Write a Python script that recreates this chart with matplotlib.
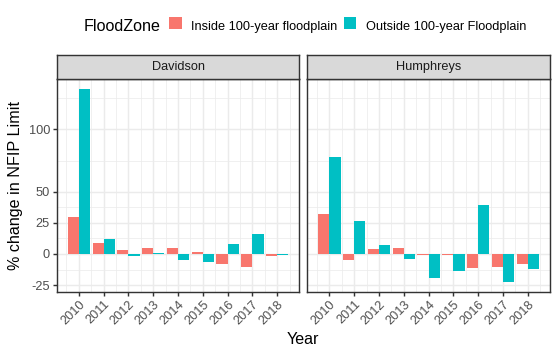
import matplotlib
matplotlib.use("Agg")
import matplotlib.pyplot as plt
import matplotlib.patches as mpatches
import numpy as np

plt.rcParams['font.family'] = ['Liberation Sans', 'DejaVu Sans']
plt.rcParams['axes.unicode_minus'] = False

years = [2010, 2011, 2012, 2013, 2014, 2015, 2016, 2017, 2018]
counties = ["Davidson", "Humphreys"]
zones = ["Inside 100-year floodplain", "Outside 100-year Floodplain"]
colors = ["#F8766D", "#00BFC4"]

davidson_inside = [29.3, 8.6, 3.2, 4.8, 4.8, 1.6, -8.3, -10.2, -1.3]
davidson_outside = [132.5, 12.1, -1.3, 1.1, -4.8, -6.2, 8.0, 15.9, -0.8]
humphreys_inside = [32.3, -4.6, 3.8, 4.8, -0.8, -0.8, -11.0, -10.2, -8.3]
humphreys_outside = [78.0, 26.6, 7.5, -3.8, -19.0, -13.4, 39.0, -22.8, -11.8]

series = {
    "Davidson": [davidson_inside, davidson_outside],
    "Humphreys": [humphreys_inside, humphreys_outside],
}

y_breaks = [-25, 0, 25, 50, 100]
y_minor = [-12.5, 12.5, 37.5, 75, 125]

W, H = 560, 356
DPI = 96
fig = plt.figure(figsize=(W / DPI, H / DPI), dpi=DPI)
fig.patch.set_facecolor("white")

SMALL = 9.6
BIG = 12.1

def fx(px):
    return px / W

def fy(py):
    return 1 - py / H

panel_top, panel_bot = 79.3, 292.0
strip_top = 55.3
lefts = [56.7, 307.3]
pw = 242.7

yrs = np.array(years, dtype=float)
bw = 0.45
all_vals = np.concatenate([np.array(v) for s in series.values() for v in s])
ymin = min(0, all_vals.min()); ymax = max(0, all_vals.max())
ypad = 0.05 * (ymax - ymin)
xlo = yrs[0] - bw; xhi = yrs[-1] + bw
xpad = 0.05 * (xhi - xlo)

grid_c = "#EBEBEB"
border_c = "#333333"

for i, county in enumerate(counties):
    ax = fig.add_axes([fx(lefts[i]), fy(panel_bot), pw / W, (panel_bot - panel_top) / H])
    ax.set_facecolor("white")
    ax.set_xlim(xlo - xpad, xhi + xpad)
    ax.set_ylim(ymin - ypad, ymax + ypad)
    ax.set_xticks(years)
    ax.set_xticks(np.array(years[:] + [years[-1] + 1]) - 0.5, minor=True)
    ax.set_yticks(y_breaks)
    ax.set_yticks(y_minor, minor=True)
    ax.grid(True, which="major", color=grid_c, linewidth=1.07, zorder=0)
    ax.grid(True, which="minor", color=grid_c, linewidth=0.53, zorder=0)
    ax.set_axisbelow(True)
    ins, outs = series[county]
    ax.bar(yrs - bw / 2, ins, width=bw, color=colors[0], zorder=2, linewidth=0)
    ax.bar(yrs + bw / 2, outs, width=bw, color=colors[1], zorder=2, linewidth=0)
    for sp in ax.spines.values():
        sp.set_color(border_c)
        sp.set_linewidth(1.07)
        sp.set_zorder(5)
    ax.tick_params(which="major", length=2.75, width=1.07, color=border_c,
                   labelsize=SMALL, labelcolor="#4D4D4D", pad=2.2)
    ax.tick_params(which="minor", length=0)
    ax.set_xticklabels([str(y) for y in years], rotation=45, ha="right", va="top",
                       rotation_mode="anchor")
    if i == 0:
        ax.set_yticklabels([str(b) for b in y_breaks])
    else:
        ax.set_yticklabels([])
        ax.tick_params(axis="y", which="major", length=0)
    # strip
    sax = fig.add_axes([fx(lefts[i]), fy(panel_top), pw / W, (panel_top - strip_top) / H])
    sax.set_facecolor("#D9D9D9")
    sax.set_xticks([]); sax.set_yticks([])
    for sp in sax.spines.values():
        sp.set_color(border_c)
        sp.set_linewidth(1.07)
    sax.text(0.5, 0.5, county, transform=sax.transAxes, ha="center", va="center",
             fontsize=SMALL, color="#1A1A1A")

# axis titles
fig.text(fx(15.3), fy((panel_top + panel_bot) / 2), "% change in NFIP Limit", rotation=90,
         ha="center", va="center", fontsize=BIG, color="black")
fig.text(fx((lefts[0] + lefts[1] + pw) / 2), fy(344.5), "Year", ha="center",
         va="baseline", fontsize=BIG, color="black")

# legend
fig.text(fx(83.5), fy(30.7), "FloodZone", ha="left", va="baseline", fontsize=BIG, color="black")
key_x = [169.3, 344.0]
lab_x = [191.0, 366.0]
for k in range(2):
    fig.patches.append(mpatches.Rectangle((fx(key_x[k]), fy(28.9)), 12.4 / W, 11.9 / H,
                                          transform=fig.transFigure, facecolor=colors[k],
                                          edgecolor="none"))
    fig.text(fx(lab_x[k]), fy(29.7), zones[k], ha="left", va="baseline", fontsize=SMALL,
             color="black")

fig.savefig("out.png", dpi=DPI, facecolor="white")
